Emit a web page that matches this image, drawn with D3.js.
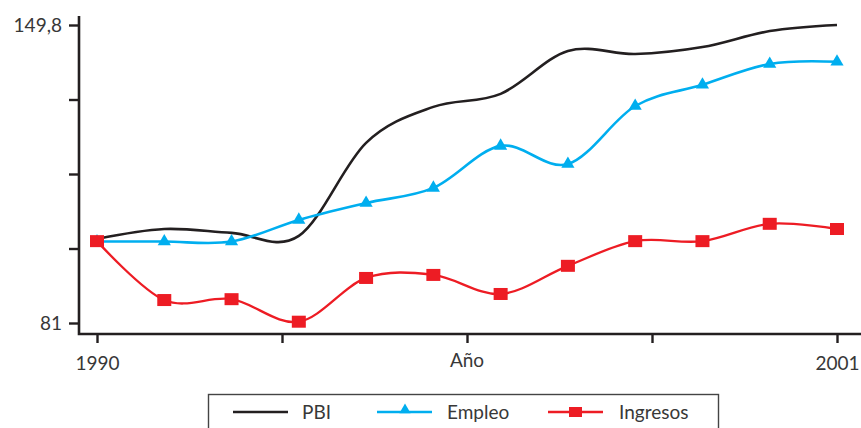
<!DOCTYPE html>
<html>
<head>
<meta charset="utf-8">
<script src="https://cdn.jsdelivr.net/npm/d3@7"></script>
<style>
  html, body { margin: 0; padding: 0; background: #fff; }
  svg { display: block; }
  text { font-family: Lato, "Open Sans", sans-serif; font-weight: 400; fill: #383838; }
</style>
</head>
<body>
<svg id="chart" width="861" height="428"></svg>
<script>
// Años de la serie
const years = [1990, 1991, 1992, 1993, 1994, 1995, 1996, 1997, 1998, 1999, 2000, 2001];

// Índices (1990 ≈ 100)
const pbi      = [100.4, 102.7, 101.8, 101.1, 122.6, 130.9, 133.9, 143.8, 143.1, 144.7, 148.4, 149.8];
const empleo   = [99.8, 99.8, 99.8, 104.8, 108.7, 112.2, 121.9, 117.7, 131.1, 136.0, 140.8, 141.3];
const ingresos = [99.9, 86.3, 86.5, 81.3, 91.4, 92.1, 87.7, 94.2, 99.9, 99.9, 103.9, 102.7];

// Ejes
const yTicks = [81, 98.2, 115.4, 132.6, 149.8];
const yTickLabels = ["81", "", "", "", "149,8"];
const xTicks = [1990, 1992.75, 1995.5, 1998.25, 2001];
const xTickLabels = ["1990", "", "", "", "2001"];
const xTitle = "Año";

const seriesNames = ["PBI", "Empleo", "Ingresos"];
const seriesColors = ["#231f20", "#00aeef", "#ed1c24"];

const svg = d3.select("#chart");

const x = d3.scaleLinear().domain([1990, 2001]).range([97, 837]);
const y = d3.scaleLinear().domain([81, 149.8]).range([323, 25]);

const axisColor = "#231f20";
const textColor = "#383838";
const axisX0 = 79, axisY0 = 334;

// Eje Y
const gy = svg.append("g")
  .attr("transform", `translate(${axisX0},0)`)
  .call(d3.axisLeft(y).tickValues(yTicks).tickSize(10).tickSizeOuter(0)
    .tickFormat((d, i) => yTickLabels[i]).tickPadding(7));
gy.select(".domain").remove();
gy.selectAll(".tick line").attr("stroke", axisColor).attr("stroke-width", 2.4);
gy.selectAll(".tick text").style("font-size", "19px").attr("fill", textColor);

// Eje X
const gx = svg.append("g")
  .attr("transform", `translate(0,${axisY0})`)
  .call(d3.axisBottom(x).tickValues(xTicks).tickSize(9).tickSizeOuter(0)
    .tickFormat((d, i) => xTickLabels[i]).tickPadding(14));
gx.select(".domain").remove();
gx.selectAll(".tick line").attr("stroke", axisColor).attr("stroke-width", 2.4);
gx.selectAll(".tick text").style("font-size", "19px").attr("fill", textColor);

svg.append("text")
  .attr("x", x(xTicks[2])).attr("y", 367)
  .attr("text-anchor", "middle")
  .style("font-size", "19px")
  .text(xTitle);

// Líneas de los ejes
svg.append("path")
  .attr("d", `M${axisX0},16 V${axisY0} H861`)
  .attr("fill", "none").attr("stroke", axisColor).attr("stroke-width", 2.6);

// Series
const line = d3.line()
  .x((d, i) => x(years[i]))
  .y(d => y(d))
  .curve(d3.curveCardinal.tension(0));

const allSeries = [pbi, empleo, ingresos];
const widths = [2.6, 2.6, 2.3];

allSeries.forEach((vals, k) => {
  svg.append("path")
    .datum(vals)
    .attr("d", line)
    .attr("fill", "none")
    .attr("stroke", seriesColors[k])
    .attr("stroke-width", widths[k]);
});

// Marcadores
const tri = d3.symbol().type(d3.symbolTriangle).size(75);
svg.append("g").selectAll("path")
  .data(empleo)
  .join("path")
  .attr("d", tri)
  .attr("transform", (d, i) => `translate(${x(years[i])},${y(d)})`)
  .attr("fill", seriesColors[1]);

svg.append("g").selectAll("rect")
  .data(ingresos)
  .join("rect")
  .attr("x", (d, i) => x(years[i]) - 7)
  .attr("y", d => y(d) - 6)
  .attr("width", 14).attr("height", 12)
  .attr("fill", seriesColors[2]);

// Leyenda
const legend = svg.append("g");
legend.append("rect")
  .attr("x", 208.5).attr("y", 394.5)
  .attr("width", 510).attr("height", 60)
  .attr("fill", "none").attr("stroke", "#444").attr("stroke-width", 1.4);

const legendX = [233, 377, 548];
const legendTextX = [302, 447, 619];
seriesNames.forEach((name, k) => {
  const lx = legendX[k];
  legend.append("line")
    .attr("x1", lx).attr("x2", lx + 55)
    .attr("y1", 412).attr("y2", 412)
    .attr("stroke", seriesColors[k]).attr("stroke-width", 2.4);
  if (k === 1) {
    legend.append("path")
      .attr("d", d3.symbol().type(d3.symbolTriangle).size(55)())
      .attr("transform", `translate(${lx + 28},410)`)
      .attr("fill", seriesColors[k]);
  } else if (k === 2) {
    legend.append("rect")
      .attr("x", lx + 21).attr("y", 407)
      .attr("width", 13).attr("height", 10)
      .attr("fill", seriesColors[k]);
  }
  legend.append("text")
    .attr("x", legendTextX[k]).attr("y", 419)
    .style("font-size", "19px")
    .text(name);
});
</script>
</body>
</html>
